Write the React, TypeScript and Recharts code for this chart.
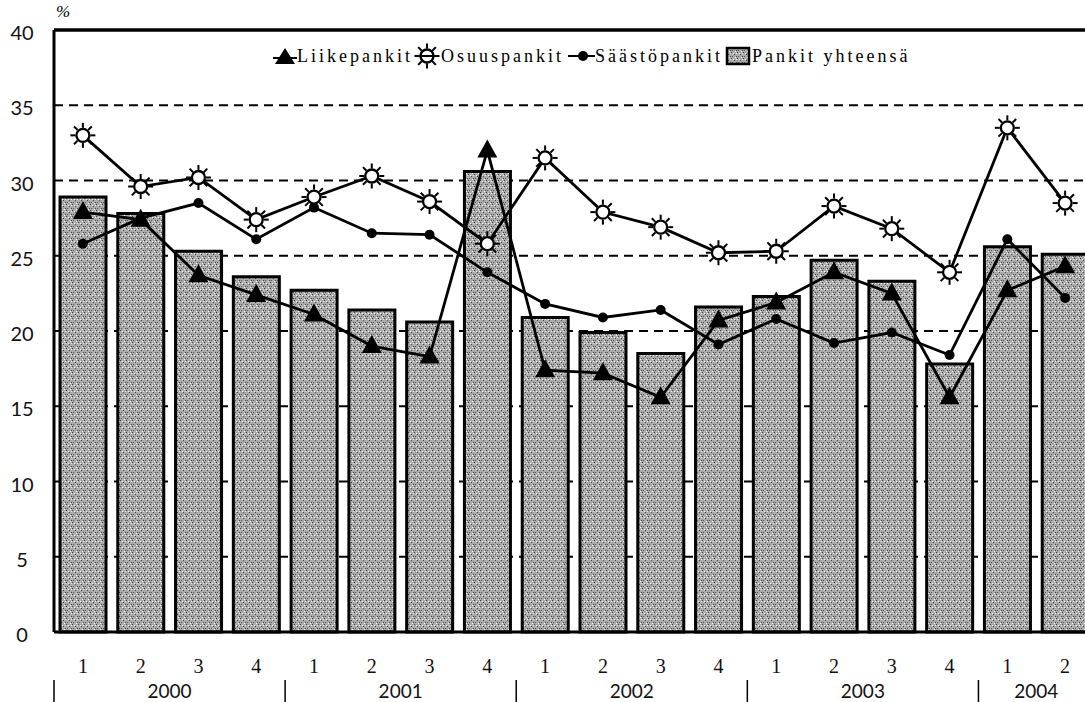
import React from 'react';
import { ComposedChart, Bar, Line, XAxis, YAxis, CartesianGrid, Legend, ReferenceLine } from 'recharts';

// quarters 2000 Q1 .. 2004 Q2
const quarters = ['1', '2', '3', '4', '1', '2', '3', '4', '1', '2', '3', '4', '1', '2', '3', '4', '1', '2'];
const years = ['2000', '2000', '2000', '2000', '2001', '2001', '2001', '2001', '2002', '2002', '2002', '2002', '2003', '2003', '2003', '2003', '2004', '2004'];

const liikepankit = [27.9, 27.4, 23.7, 22.4, 21.1, 19.0, 18.3, 32.0, 17.4, 17.2, 15.6, 20.7, 21.9, 23.9, 22.5, 15.6, 22.7, 24.3];
const osuuspankit = [33.0, 29.6, 30.2, 27.4, 28.9, 30.3, 28.6, 25.8, 31.5, 27.9, 26.9, 25.2, 25.3, 28.3, 26.8, 23.9, 33.5, 28.5];
const saastopankit = [25.8, 27.5, 28.5, 26.1, 28.2, 26.5, 26.4, 23.9, 21.8, 20.9, 21.4, 19.1, 20.8, 19.2, 19.9, 18.4, 26.1, 22.2];
const pankitYhteensa = [28.9, 27.8, 25.3, 23.6, 22.7, 21.4, 20.6, 30.6, 20.9, 19.9, 18.5, 21.6, 22.3, 24.7, 23.3, 17.8, 25.6, 25.1];

const yTicks = [0, 5, 10, 15, 20, 25, 30, 35, 40];

const data = quarters.map((q, i) => ({
  key: `${years[i]}-${q}`,
  liike: liikepankit[i],
  osuus: osuuspankit[i],
  saasto: saastopankit[i],
  yht: pankitYhteensa[i],
}));

const CHART_W = 1100;
const Y_AXIS_W = 54;
const RIGHT_M = 6;
const BAND = (CHART_W - Y_AXIS_W - RIGHT_M) / quarters.length;

const serif = '"Liberation Serif", "DejaVu Serif", serif';
const sans = 'Lato, "Liberation Sans", sans-serif';

const Triangle = ({ cx, cy }: any) => (
  <path d={`M${cx},${cy - 11} L${cx + 10},${cy + 7} L${cx - 10},${cy + 7} Z`} fill="#000" />
);

const Sun = ({ cx, cy }: any) => {
  const rays = [0, 45, 90, 135, 180, 225, 270, 315].map((a) => {
    const r = (a * Math.PI) / 180;
    return (
      <line
        key={a}
        x1={cx + Math.cos(r) * 7.5}
        y1={cy + Math.sin(r) * 7.5}
        x2={cx + Math.cos(r) * 12.5}
        y2={cy + Math.sin(r) * 12.5}
        stroke="#000"
        strokeWidth={2}
      />
    );
  });
  return (
    <g>
      {rays}
      <circle cx={cx} cy={cy} r={6.5} fill="#fff" stroke="#000" strokeWidth={2.3} />
    </g>
  );
};

const txt: React.CSSProperties = { fontFamily: serif, fontSize: 18, letterSpacing: 3, color: '#000' };

const LegendContent = () => (
  <div style={{ display: 'flex', alignItems: 'center', whiteSpace: 'nowrap' }}>
    <svg width={24} height={20}><path d="M12,2 L22,18 L2,18 Z" fill="#000" /><line x1={0} y1={12} x2={24} y2={12} stroke="#000" strokeWidth={2} /></svg>
    <span style={txt}>Liikepankit</span>
    <svg width={28} height={26}><Sun cx={14} cy={13} /><line x1={2} y1={13} x2={26} y2={13} stroke="#000" strokeWidth={2} /></svg>
    <span style={txt}>Osuuspankit</span>
    <svg width={27} height={20} style={{ marginLeft: 4 }}><line x1={0} y1={10} x2={27} y2={10} stroke="#000" strokeWidth={2} /><circle cx={15} cy={10} r={5} fill="#000" /></svg>
    <span style={txt}>Säästöpankit</span>
    <svg width={27} height={20} style={{ marginLeft: 2 }}><rect x={2} y={2} width={22} height={16} fill="url(#stip)" stroke="#000" strokeWidth={2.5} /></svg>
    <span style={txt}>Pankit yhteensä</span>
  </div>
);

const YTick = ({ y, payload }: any) => (
  <text x={22} y={y + 10} textAnchor="middle" fontFamily={sans} fontSize={20} fill="#111">
    {payload.value}
  </text>
);

const QuarterTick = ({ x, payload }: any) => (
  <text x={x} y={673} textAnchor="middle" fontFamily={serif} fontSize={20} fill="#111">
    {quarters[payload.index]}
  </text>
);

const YearTick = ({ x, payload }: any) => {
  const i = payload.index;
  if (i > 0 && years[i - 1] === years[i]) return <g />;
  const n = years.filter((y) => y === years[i]).length;
  return (
    <g>
      <line x1={x - BAND / 2} y1={680} x2={x - BAND / 2} y2={702} stroke="#000" strokeWidth={1.5} />
      <text x={x + ((n - 1) / 2) * BAND} y={698} textAnchor="middle" fontFamily={sans} fontSize={19} fill="#111">
        {years[i]}
      </text>
    </g>
  );
};

const App: React.FC = () => {
  return (
    <div style={{ position: 'absolute', left: 0, top: 0, width: 1085, height: 702, overflow: 'hidden', background: '#fff' }}>
      <svg width={0} height={0} style={{ position: 'absolute' }}>
        <defs>
          <pattern id="stip" width="6" height="6" patternUnits="userSpaceOnUse">
            <rect width="6" height="6" fill="#ababab" />
            <rect x="0" y="0" width="1" height="1" fill="#3a3a3a" />
            <rect x="3" y="2" width="1" height="1" fill="#444" />
            <rect x="1" y="4" width="1" height="1" fill="#555" />
            <rect x="5" y="4" width="1" height="1" fill="#444" />
            <rect x="4" y="5" width="1" height="1" fill="#fff" />
            <rect x="2" y="1" width="1" height="1" fill="#fff" />
            <rect x="5" y="1" width="1" height="1" fill="#eee" />
          </pattern>
        </defs>
      </svg>
      <span style={{ position: 'absolute', left: 56, top: 2, fontFamily: serif, fontStyle: 'italic', fontSize: 17 }}>%</span>
      <ComposedChart
        width={CHART_W}
        height={702}
        data={data}
        margin={{ top: 30, right: RIGHT_M, bottom: 0, left: 0 }}
        barCategoryGap={0}
      >
        <CartesianGrid horizontal vertical={false} stroke="#000" strokeWidth={1.8} strokeDasharray="9 6" />
        <XAxis
          xAxisId="q"
          dataKey="key"
          height={40}
          interval={0}
          tickLine={false}
          axisLine={{ stroke: '#000', strokeWidth: 3 }}
          tick={<QuarterTick />}
        />
        <XAxis xAxisId="y" dataKey="key" height={30} interval={0} tickLine={false} axisLine={false} tick={<YearTick />} />
        <YAxis
          width={Y_AXIS_W}
          domain={[0, 40]}
          ticks={yTicks}
          interval={0}
          tickLine={false}
          axisLine={{ stroke: '#000', strokeWidth: 3 }}
          tick={<YTick />}
        />
        <ReferenceLine xAxisId="q" y={40} stroke="#000" strokeWidth={3.5} />
        <Legend layout="horizontal" verticalAlign="middle" align="center" wrapperStyle={{ left: 273, top: 43, width: 700 }} content={<LegendContent />} />
        <Bar xAxisId="q" dataKey="yht" name="Pankit yhteensä" barSize={46} fill="url(#stip)" stroke="#000" strokeWidth={3} isAnimationActive={false} />
        <Line xAxisId="q" dataKey="saasto" name="Säästöpankit" stroke="#000" strokeWidth={2.8} isAnimationActive={false}
          dot={(p: any) => <circle key={`s${p.index}`} cx={p.cx} cy={p.cy} r={5} fill="#000" />} />
        <Line xAxisId="q" dataKey="osuus" name="Osuuspankit" stroke="#000" strokeWidth={2.8} isAnimationActive={false}
          dot={(p: any) => <Sun key={`o${p.index}`} cx={p.cx} cy={p.cy} />} />
        <Line xAxisId="q" dataKey="liike" name="Liikepankit" stroke="#000" strokeWidth={2.8} isAnimationActive={false}
          dot={(p: any) => <Triangle key={`l${p.index}`} cx={p.cx} cy={p.cy} />} />
      </ComposedChart>
    </div>
  );
};

export default App;
